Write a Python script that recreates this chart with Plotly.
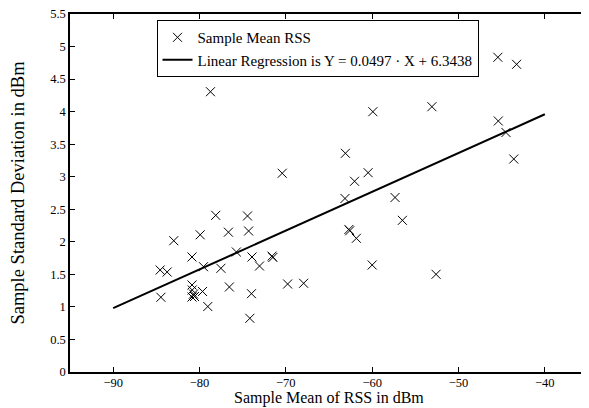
import plotly.graph_objects as go

# Sample mean RSS (dBm) and sample standard deviation (dBm)
mean_rss = [-84.56, -83.75, -84.47, -82.98, -80.87, -80.87, -80.85, -80.69, -80.58, -80.87,
            -79.65, -79.92, -79.54, -79.04, -78.12, -78.73, -77.52, -76.65, -76.54, -75.73,
            -74.44, -74.31, -73.92, -73.98, -74.17, -73.05, -71.6, -71.5, -70.42, -69.79,
            -67.94, -63.1, -63.15, -60.47, -62.04, -62.7, -62.6, -61.83, -60.0, -59.92,
            -57.35, -56.5, -53.08, -52.6, -45.44, -43.27, -45.39, -44.5, -43.6]
std_rss = [1.567, 1.536, 1.148, 2.017, 1.767, 1.337, 1.26, 1.198, 1.16, 1.152,
           1.237, 2.108, 1.618, 1.006, 2.407, 4.306, 1.593, 2.148, 1.306, 1.844,
           2.397, 2.166, 1.767, 1.203, 0.825, 1.628, 1.78, 1.76, 3.053, 1.352,
           1.363, 3.36, 2.666, 3.062, 2.93, 2.19, 2.17, 2.054, 1.644, 3.999,
           2.681, 2.33, 4.076, 1.501, 4.835, 4.727, 3.856, 3.68, 3.272]

# Regression line as drawn
reg_x = [-90, -40]
reg_y = [0.98, 3.96]

x_ticks = [-90, -80, -70, -60, -50, -40]
y_ticks = [0, 0.5, 1, 1.5, 2, 2.5, 3, 3.5, 4, 4.5, 5, 5.5]
y_ticklabels = ["0", "0.5", "1", "1.5", "2", "2.5", "3", "3.5", "4", "4.5", "5", "5.5"]

x_title = "Sample Mean of RSS in dBm"
y_title = "Sample Standard Deviation in dBm"

FONT = "Liberation Serif, Times New Roman, serif"

fig = go.Figure()
fig.add_trace(go.Scatter(
    x=mean_rss, y=std_rss, mode="markers", name="Sample Mean RSS",
    marker=dict(symbol="x-thin", size=9, line=dict(color="black", width=1), color="black"),
))
fig.add_trace(go.Scatter(
    x=reg_x, y=reg_y, mode="lines",
    name="Linear Regression is Y = 0.0497 · X + 6.3438",
    line=dict(color="black", width=2),
))

axis_common = dict(
    showgrid=False, zeroline=False, showline=True, linecolor="black", linewidth=1.5,
    mirror="ticks", ticks="inside", ticklen=5, tickwidth=1, tickcolor="black",
    automargin=False, ticklabeloverflow="allow",
)

# The page body has an 8px default margin, so the figure is sized to fit inside it.
fig.update_layout(
    width=581, height=400,
    margin=dict(l=62, r=1, t=6, b=36),
    paper_bgcolor="white", plot_bgcolor="white",
    font=dict(family=FONT, color="black"),
    showlegend=True,
    legend=dict(
        x=0.167, y=0.983, xanchor="left", yanchor="top",
        bgcolor="white", bordercolor="black", borderwidth=1,
        font=dict(family=FONT, size=15, color="black"),
        tracegroupgap=0, itemwidth=30,
    ),
    xaxis=dict(
        range=[-95, -35], tickvals=x_ticks,
        tickfont=dict(family=FONT, size=12.5, color="black"),
        ticklabelstandoff=-2,
        **axis_common,
    ),
    yaxis=dict(
        range=[0, 5.5], tickvals=y_ticks, ticktext=y_ticklabels,
        tickfont=dict(family=FONT, size=12.5, color="black"),
        title=dict(text=y_title, font=dict(family=FONT, size=18.5), standoff=27),
        **axis_common,
    ),
    annotations=[dict(
        text=x_title, xref="paper", yref="paper", x=0.5, y=-0.1006,
        xanchor="center", yanchor="bottom", showarrow=False, borderpad=0,
        font=dict(family=FONT, size=16, color="black"),
    )],
)

fig.write_html("out.html")
